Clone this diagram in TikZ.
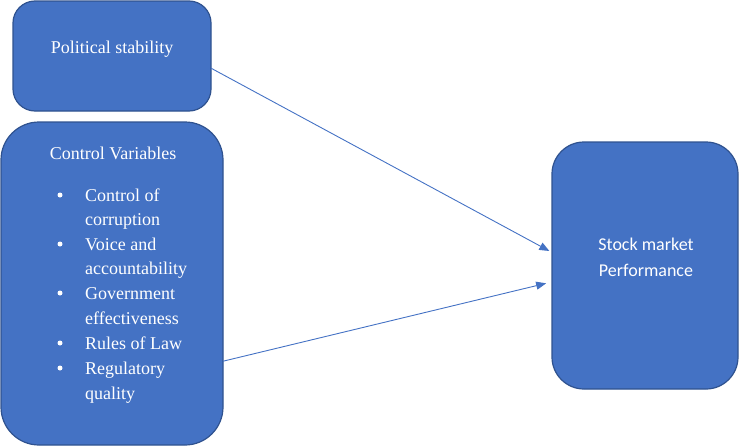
\documentclass[tikz,border=0pt]{standalone}
\usepackage{fontspec}
\setmainfont{Liberation Serif}
\newfontfamily\timesf{Liberation Serif}
\newfontfamily\calibri{Carlito}
\usetikzlibrary{arrows.meta}
\definecolor{boxfill}{HTML}{4472C4}
\definecolor{boxline}{HTML}{2F528F}
\begin{document}
\begin{tikzpicture}[x=1pt,y=-1pt,
  box/.style={draw=boxline,line width=1.2pt,fill=boxfill,inner sep=0pt,outer sep=0pt},
  lbl/.style={text=white,font=\timesf\fontsize{18}{25}\selectfont,inner sep=0pt,anchor=base},
  lblw/.style={lbl,anchor=base west},
  bul/.style={fill=white,circle,inner sep=0pt,minimum size=5pt},
  conn/.style={draw=boxfill,line width=0.9pt,-{Triangle[length=10pt,width=8pt]}}]
\useasboundingbox (0,0) rectangle (740,447);
% boxes
\node[box,rounded corners=22pt,minimum width=198pt,minimum height=110pt] (ps) at (112,56) {};
\node[box,rounded corners=38pt,minimum width=222pt,minimum height=323pt] (cv) at (112,283.5) {};
\node[box,rounded corners=32pt,minimum width=186pt,minimum height=247pt] (sm) at (645,265.5) {};
% texts
\node[lbl] (pst) at (112,53) {Political stability};
\node[lbl] (cvt) at (113,159) {Control Variables};
\foreach \y/\t/\b [count=\i] in {201/Control of/1,225/corruption/0,250/Voice and/1,274/accountability/0,299/Government/1,324/effectiveness/0,349/Rules of Law/1,374/Regulatory/1,399/quality/0}{
  \node[lblw] (item\i) at (85,\y) {\t};
  \ifnum\b=1 \node[bul] (bul\i) at (60,\y-6) {};\fi
}
\node[lbl,font=\calibri\fontsize{18}{26}\selectfont] (smt1) at (646,250) {Stock market};
\node[lbl,font=\calibri\fontsize{18}{26}\selectfont] (smt2) at (646,276) {Performance};
% connectors
\draw[conn,shorten >=3pt] (ps.-7.5) -- (sm.172);
\draw[conn,shorten >=6pt] (cv.-35.8) -- (sm.190);
\end{tikzpicture}
\end{document}
